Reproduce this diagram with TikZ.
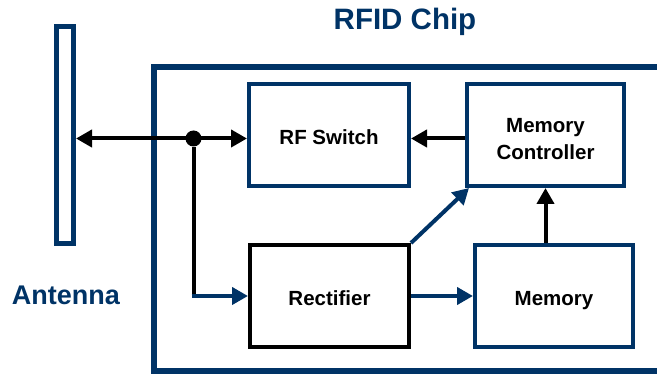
\documentclass[tikz,border=0pt]{standalone}
\usepackage{fontspec}
\setmainfont{Liberation Sans}
\usepackage{tikz}
\usetikzlibrary{arrows.meta}
\definecolor{chipblue}{RGB}{0,51,102}

\begin{document}
\begin{tikzpicture}[x=1pt,y=-1pt,
  block/.style = {draw=chipblue, line width=4pt, rectangle, minimum width=158pt, minimum height=102pt, inner sep=0pt, align=center, font=\fontsize{20.5}{27}\selectfont\bfseries},
  oneline/.style = {text height=19pt, text depth=0pt},
  link/.style = {line width=4pt, -{Triangle[length=16pt,width=17pt]}},
  bilink/.style = {line width=4pt, {Triangle[length=16pt,width=17pt]}-{Triangle[length=16pt,width=17pt]}}]

\clip (0,0) rectangle (657,374);

\draw[chipblue, line width=5.5pt] (154,67) rectangle (680,371);
\node[draw=chipblue, line width=5pt, minimum width=17pt, minimum height=217pt, inner sep=0pt] (antenna) at (65,135) {};

\node[text=chipblue, font=\fontsize{29.5}{30}\selectfont\bfseries] (chiplabel) at (405,22) {RFID Chip};
\node[text=chipblue, font=\fontsize{27}{30}\selectfont\bfseries] (antlabel) at (66,295) {Antenna};

\node[block, oneline, minimum width=160pt] (rfsw) at (329,135) {RF Switch};
\node[block, minimum width=157pt] (memctrl) at (545.5,135) {\rule{0pt}{23pt}Memory\\Controller};
\node[block, oneline, draw=black, minimum width=159pt] (rect) at (329.5,296) {Rectifier};
\node[block, oneline] (memory) at (554,296) {Memory};

\node[circle, fill=black, minimum size=16pt, inner sep=0pt] (dot) at (193.5,138.5) {};

\draw[bilink] (antenna.east |- dot) -- (rfsw.west |- dot);
\draw[link] (memctrl.west |- dot) -- (rfsw.east |- dot);
\draw[line width=4pt] (dot) -- ([yshift=2pt]dot |- rect.west);
\draw[link, chipblue] ([xshift=-2pt]dot |- rect.west) -- (rect.west);
\draw[link, chipblue] (rect.north east) -- ([xshift=4pt]memctrl.south west);
\draw[link, chipblue] (rect.east) -- (memory.west);
\draw[link] (memctrl.south |- memory.north) -- (memctrl.south);

\end{tikzpicture}
\end{document}
